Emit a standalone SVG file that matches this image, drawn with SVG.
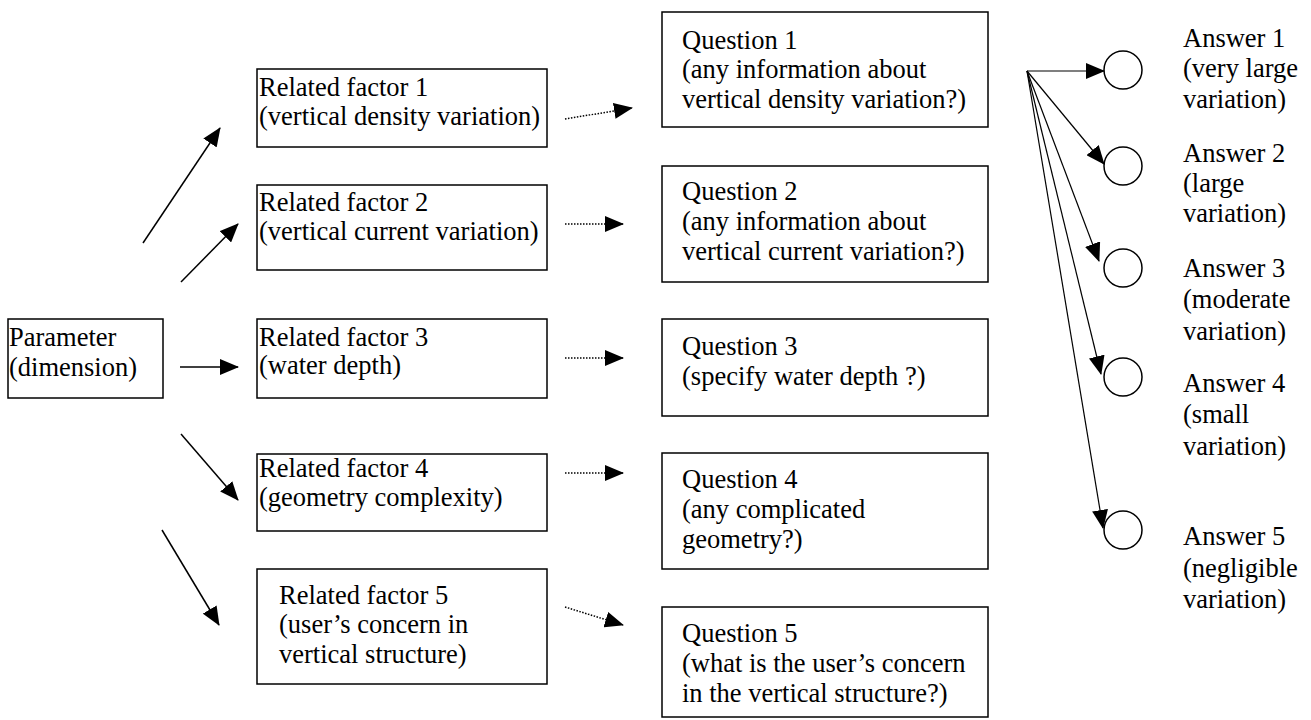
<svg xmlns="http://www.w3.org/2000/svg" width="1311" height="720" viewBox="0 0 1311 720">
<defs>
<marker id="ah" markerUnits="userSpaceOnUse" markerWidth="20" markerHeight="16" refX="18" refY="8" orient="auto">
<path d="M0,0 L19,8 L0,16 Z" fill="#000"/>
</marker>
<style>
.box{fill:#fff;stroke:#000;stroke-width:1.5}
.circ{fill:#fff;stroke:#000;stroke-width:1.5}
.solid{stroke:#000;stroke-width:1.5;fill:none;marker-end:url(#ah)}
.thin{stroke:#000;stroke-width:1.2;fill:none;marker-end:url(#ah)}
.dot{stroke:#000;stroke-width:1.5;fill:none;stroke-dasharray:1.5,1.5;marker-end:url(#ah)}
</style>
</defs>
<rect width="1311" height="720" fill="#fff"/>
<g font-family="Liberation Serif, Tinos, Times New Roman, DejaVu Serif, serif" font-size="26.5" fill="#000">
<g id="param">
<rect class="box" x="8" y="319" width="155" height="79"/>
<text x="9" y="346">Parameter</text>
<text x="9" y="376">(dimension)</text>
</g>
<g id="rf1">
<rect class="box" x="257" y="69" width="290" height="78"/>
<text x="259" y="96">Related factor 1</text>
<text x="259" y="125">(vertical density variation)</text>
</g>
<g id="rf2">
<rect class="box" x="257" y="185" width="290" height="85"/>
<text x="259" y="211">Related factor 2</text>
<text x="259" y="240">(vertical current variation)</text>
</g>
<g id="rf3">
<rect class="box" x="257" y="319" width="290" height="79"/>
<text x="259" y="346">Related factor 3</text>
<text x="259" y="374">(water depth)</text>
</g>
<g id="rf4">
<rect class="box" x="257" y="454" width="290" height="77"/>
<text x="259" y="477">Related factor 4</text>
<text x="259" y="506">(geometry complexity)</text>
</g>
<g id="rf5">
<rect class="box" x="257" y="569" width="290" height="115"/>
<text x="279" y="604">Related factor 5</text>
<text x="279" y="633">(user’s concern in</text>
<text x="279" y="663">vertical structure)</text>
</g>
<g id="q1">
<rect class="box" x="662" y="12" width="326" height="115"/>
<text x="682" y="49">Question 1</text>
<text x="682" y="78">(any information about</text>
<text x="682" y="108">vertical density variation?)</text>
</g>
<g id="q2">
<rect class="box" x="662" y="166" width="326" height="116"/>
<text x="682" y="200">Question 2</text>
<text x="682" y="230">(any information about</text>
<text x="682" y="260">vertical current variation?)</text>
</g>
<g id="q3">
<rect class="box" x="662" y="319" width="326" height="97"/>
<text x="682" y="355">Question 3</text>
<text x="682" y="385">(specify water depth ?)</text>
</g>
<g id="q4">
<rect class="box" x="662" y="453" width="326" height="116"/>
<text x="682" y="488">Question 4</text>
<text x="682" y="518">(any complicated</text>
<text x="682" y="548">geometry?)</text>
</g>
<g id="q5">
<rect class="box" x="662" y="607" width="326" height="110"/>
<text x="682" y="642">Question 5</text>
<text x="682" y="672">(what is the user’s concern</text>
<text x="682" y="702">in the vertical structure?)</text>
</g>
<g id="a1">
<circle class="circ" cx="1123" cy="70" r="19"/>
<text x="1183" y="47">Answer 1</text>
<text x="1183" y="77">(very large</text>
<text x="1183" y="108">variation)</text>
</g>
<g id="a2">
<circle class="circ" cx="1123" cy="166" r="19"/>
<text x="1183" y="162">Answer 2</text>
<text x="1183" y="192">(large</text>
<text x="1183" y="222">variation)</text>
</g>
<g id="a3">
<circle class="circ" cx="1123" cy="268" r="19"/>
<text x="1183" y="277">Answer 3</text>
<text x="1183" y="308">(moderate</text>
<text x="1183" y="340">variation)</text>
</g>
<g id="a4">
<circle class="circ" cx="1123" cy="377" r="19"/>
<text x="1183" y="392">Answer 4</text>
<text x="1183" y="423">(small</text>
<text x="1183" y="455">variation)</text>
</g>
<g id="a5">
<circle class="circ" cx="1123" cy="530" r="19"/>
<text x="1183" y="545">Answer 5</text>
<text x="1183" y="577">(negligible</text>
<text x="1183" y="608">variation)</text>
</g>
</g>
<g id="connectors">
<line class="solid" x1="143" y1="243" x2="220" y2="128"/>
<line class="solid" x1="181" y1="282" x2="238" y2="224"/>
<line class="solid" x1="180" y1="367" x2="238" y2="367"/>
<line class="solid" x1="181" y1="434" x2="238" y2="500"/>
<line class="solid" x1="162" y1="530" x2="219" y2="625"/>
<line class="dot" x1="565" y1="119" x2="632" y2="108"/>
<line class="dot" x1="565" y1="224" x2="623" y2="224"/>
<line class="dot" x1="565" y1="358" x2="623" y2="358"/>
<line class="dot" x1="565" y1="473" x2="623" y2="473"/>
<line class="dot" x1="565" y1="607" x2="623" y2="625"/>
<line class="thin" x1="1027" y1="71" x2="1104" y2="71"/>
<line class="thin" x1="1027" y1="71" x2="1104" y2="164"/>
<line class="thin" x1="1027" y1="71" x2="1099" y2="261"/>
<line class="thin" x1="1027" y1="71" x2="1101" y2="374"/>
<line class="thin" x1="1027" y1="71" x2="1103" y2="528"/>
</g>
</svg>
